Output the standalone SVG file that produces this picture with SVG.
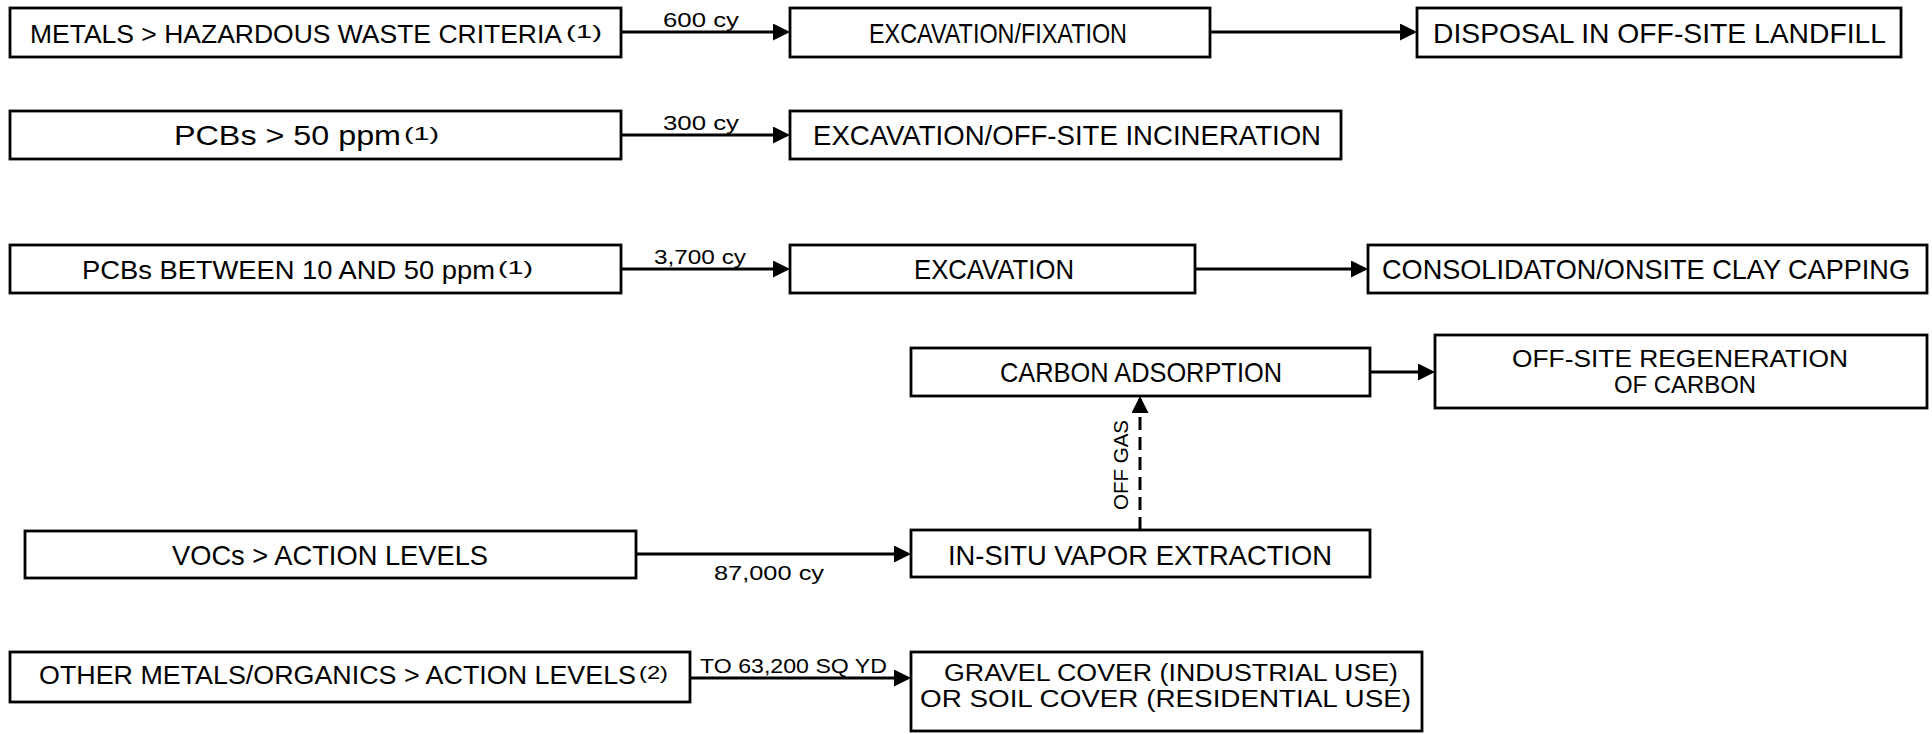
<svg xmlns="http://www.w3.org/2000/svg" width="1932" height="734" viewBox="0 0 1932 734">
<style>
.box{fill:#fff;stroke:#000;stroke-width:2.8}
.t{font-family:"Liberation Sans",Arial,sans-serif;font-size:28px;fill:#000}
.tn{font-family:"Liberation Sans",Arial,sans-serif;font-size:26px;fill:#000}
.t2{font-family:"Liberation Sans",Arial,sans-serif;font-size:23px;fill:#000}
.s{font-family:"Liberation Sans",Arial,sans-serif;font-size:20px;fill:#000}
.sup{font-family:"Liberation Sans",Arial,sans-serif;font-size:19px;fill:#000}
.c{fill:none;stroke:#000;stroke-width:3}
.d{fill:none;stroke:#000;stroke-width:3;stroke-dasharray:13 7}
</style>
<defs>
<marker id="ah" markerUnits="userSpaceOnUse" markerWidth="17" markerHeight="17" refX="14" refY="8.5" orient="auto">
<path d="M0,0 L17,8.5 L0,17 Z" fill="#000"/>
</marker>
</defs>
<rect width="1932" height="734" fill="#fff"/>

<g id="connectors">
<line class="c" x1="621" y1="32" x2="787" y2="32" marker-end="url(#ah)"/>
<line class="c" x1="1210" y1="32" x2="1414" y2="32" marker-end="url(#ah)"/>
<line class="c" x1="621" y1="135" x2="787" y2="135" marker-end="url(#ah)"/>
<line class="c" x1="621" y1="269" x2="787" y2="269" marker-end="url(#ah)"/>
<line class="c" x1="1195" y1="269" x2="1365" y2="269" marker-end="url(#ah)"/>
<line class="c" x1="1370" y1="372" x2="1432" y2="372" marker-end="url(#ah)"/>
<line class="c" x1="636" y1="554" x2="908" y2="554" marker-end="url(#ah)"/>
<line class="d" x1="1140" y1="530" x2="1140" y2="399" marker-end="url(#ah)"/>
<line class="c" x1="690" y1="678" x2="908" y2="678" marker-end="url(#ah)"/>
<text class="s" x="663" y="27" textLength="76" lengthAdjust="spacingAndGlyphs">600 cy</text>
<text class="s" x="663" y="130" textLength="76" lengthAdjust="spacingAndGlyphs">300 cy</text>
<text class="s" x="654" y="264" textLength="92" lengthAdjust="spacingAndGlyphs">3,700 cy</text>
<text class="s" x="714" y="580" textLength="110" lengthAdjust="spacingAndGlyphs">87,000 cy</text>
<text class="s" transform="translate(1128,510) rotate(-90)" x="0" y="0" textLength="90" lengthAdjust="spacingAndGlyphs">OFF GAS</text>
<text class="s" x="700" y="673" textLength="187" lengthAdjust="spacingAndGlyphs">TO 63,200 SQ YD</text>
</g>

<g id="metals-hw">
<rect class="box" x="10" y="8" width="611" height="49"/>
<text class="tn" x="30" y="43" textLength="532" lengthAdjust="spacingAndGlyphs">METALS &gt; HAZARDOUS WASTE CRITERIA</text>
<text class="sup" x="566" y="38" textLength="36" lengthAdjust="spacingAndGlyphs">(1)</text>
</g>
<g id="excavation-fixation">
<rect class="box" x="790" y="8" width="420" height="49"/>
<text class="t" x="869" y="43" textLength="258" lengthAdjust="spacingAndGlyphs">EXCAVATION/FIXATION</text>
</g>
<g id="disposal-landfill">
<rect class="box" x="1417" y="8" width="484" height="49"/>
<text class="t" x="1433" y="43" textLength="453" lengthAdjust="spacingAndGlyphs">DISPOSAL IN OFF-SITE LANDFILL</text>
</g>

<g id="pcbs-50">
<rect class="box" x="10" y="111" width="611" height="48"/>
<text class="t" x="174" y="145" textLength="227" lengthAdjust="spacingAndGlyphs">PCBs &gt; 50 ppm</text>
<text class="sup" x="404" y="140" textLength="35" lengthAdjust="spacingAndGlyphs">(1)</text>
</g>
<g id="excavation-incineration">
<rect class="box" x="790" y="111" width="551" height="48"/>
<text class="t" x="813" y="145" textLength="508" lengthAdjust="spacingAndGlyphs">EXCAVATION/OFF-SITE INCINERATION</text>
</g>

<g id="pcbs-10-50">
<rect class="box" x="10" y="245" width="611" height="48"/>
<text class="tn" x="82" y="279" textLength="413" lengthAdjust="spacingAndGlyphs">PCBs BETWEEN 10 AND 50 ppm</text>
<text class="sup" x="498" y="274" textLength="35" lengthAdjust="spacingAndGlyphs">(1)</text>
</g>
<g id="excavation">
<rect class="box" x="790" y="245" width="405" height="48"/>
<text class="t" x="914" y="279" textLength="160" lengthAdjust="spacingAndGlyphs">EXCAVATION</text>
</g>
<g id="consolidation">
<rect class="box" x="1368" y="245" width="559" height="48"/>
<text class="t" x="1382" y="279" textLength="528" lengthAdjust="spacingAndGlyphs">CONSOLIDATON/ONSITE CLAY CAPPING</text>
</g>

<g id="carbon-adsorption">
<rect class="box" x="911" y="348" width="459" height="48"/>
<text class="t" x="1000" y="382" textLength="282" lengthAdjust="spacingAndGlyphs">CARBON ADSORPTION</text>
</g>
<g id="carbon-regeneration">
<rect class="box" x="1435" y="335" width="492" height="73"/>
<text class="t2" x="1512" y="367" textLength="336" lengthAdjust="spacingAndGlyphs">OFF-SITE REGENERATION</text>
<text class="t2" x="1614" y="393" textLength="142" lengthAdjust="spacingAndGlyphs">OF CARBON</text>
</g>

<g id="vocs">
<rect class="box" x="25" y="531" width="611" height="47"/>
<text class="t" x="172" y="565" textLength="316" lengthAdjust="spacingAndGlyphs">VOCs &gt; ACTION LEVELS</text>
</g>
<g id="vapor-extraction">
<rect class="box" x="911" y="530" width="459" height="47"/>
<text class="t" x="948" y="565" textLength="384" lengthAdjust="spacingAndGlyphs">IN-SITU VAPOR EXTRACTION</text>
</g>

<g id="other-metals">
<rect class="box" x="10" y="652" width="680" height="50"/>
<text class="tn" x="39" y="684" textLength="597" lengthAdjust="spacingAndGlyphs">OTHER METALS/ORGANICS &gt; ACTION LEVELS</text>
<text class="sup" x="639" y="679" textLength="29" lengthAdjust="spacingAndGlyphs">(2)</text>
</g>
<g id="cover">
<rect class="box" x="911" y="652" width="511" height="79"/>
<text class="t2" x="944" y="681" textLength="454" lengthAdjust="spacingAndGlyphs">GRAVEL COVER (INDUSTRIAL USE)</text>
<text class="t2" x="920" y="707" textLength="491" lengthAdjust="spacingAndGlyphs">OR SOIL COVER (RESIDENTIAL USE)</text>
</g>
</svg>
